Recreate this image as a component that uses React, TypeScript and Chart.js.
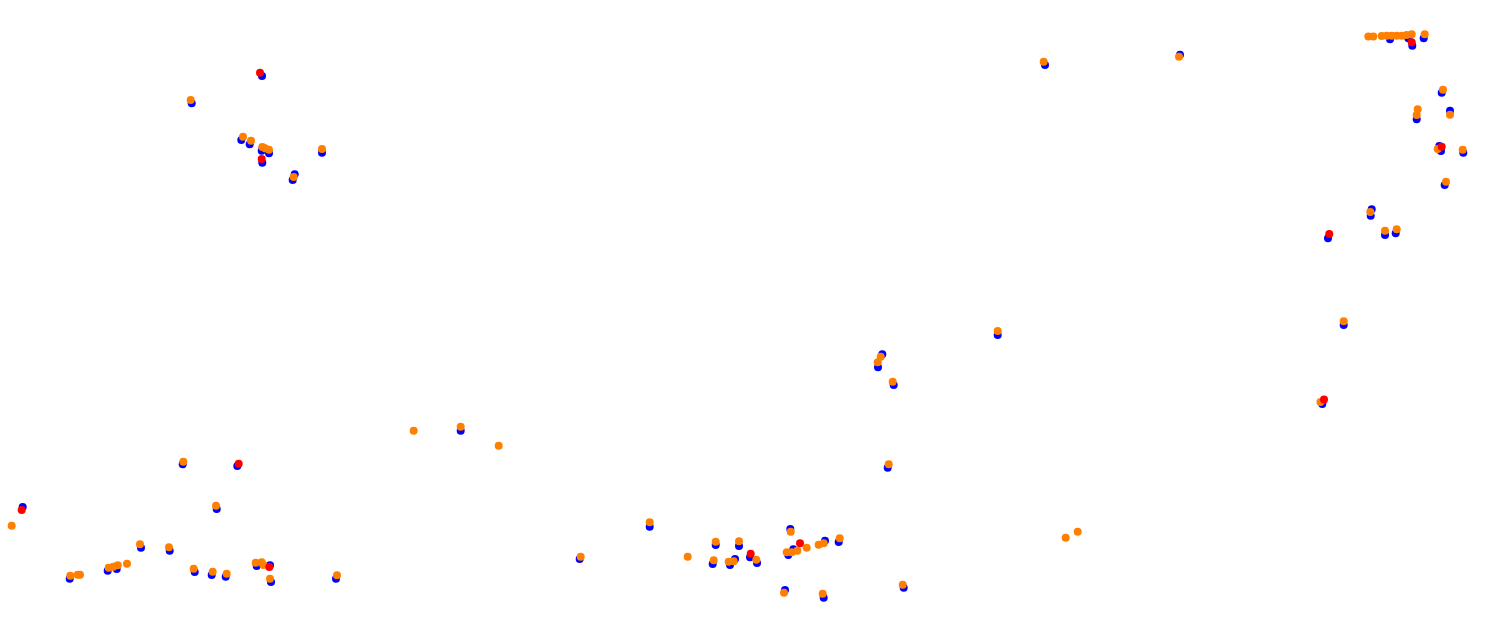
import React, { useEffect, useRef } from "react";
import { Chart, registerables } from "chart.js";

Chart.register(...registerables);

// Track-map coordinates (x to the right, y downward)
const blueX = [182.7, 237.3, 22.7, 216.7, 141, 169.7, 69.7, 107.7, 116.7, 194.7, 211.7, 225.7, 256.7, 270, 271, 336,
  649.7, 579.7, 715.7, 739, 712.7, 730, 735, 750, 757, 790.3, 788.3, 793.3, 825, 838.7, 785, 823.7, 903.7,
  1390, 1408.3, 1423.7, 1412.3, 1441.7, 1416.7, 1450, 1439.3, 1441, 1463.3, 1444.7,
  262, 191.7, 241.3, 249.7, 261.7, 269, 262.3, 322, 294.7, 292.7,
  997.7, 882.3, 878, 893.7, 887.7,
  1371.7, 1370.7, 1328, 1385, 1395.7, 1343.7, 1322.3,
  460.7, 1045, 1180];
const blueY = [464.3, 466, 507, 509, 547.7, 550.7, 578.7, 570.7, 569, 572, 575, 576.7, 566, 565.3, 582, 578.7,
  526.7, 559, 545, 546, 564, 565, 559, 557.3, 563, 529, 555, 549.3, 540.7, 542, 590, 597.7, 587.7,
  39.3, 38.3, 38.3, 45.7, 92.7, 119.3, 110.7, 146, 151, 152.7, 185,
  76, 103.3, 140, 144.3, 150.7, 153.3, 162.7, 152.7, 174.3, 180,
  335, 354.3, 367.3, 385, 467.7,
  209.3, 215.7, 238.3, 235, 233.3, 325, 404,
  430.7, 65, 54.7];

const redX = [238.7, 21.7, 269.3, 750.7, 800, 1411.7, 1441.7, 260, 261.7, 1329.3, 1324];
const redY = [463.7, 510, 567, 553.7, 543.3, 42.3, 146.7, 72.7, 159, 234, 399.5];

const orangeX = [183.3, 11.7, 216, 140, 169, 70.3, 77.7, 80, 108.7, 113.3, 117.7, 127, 193.7, 212.7, 226.7, 255.7, 261.7, 263.3, 270, 337,
  649.7, 580.7, 687.7, 715.7, 739, 713.7, 728.7, 733.7, 756.3, 790.7, 786.7, 791.7, 797.3, 806.7, 818.7, 823.7, 839.7, 784, 822.7, 902.7,
  1368.3, 1373.3, 1381.7, 1386.7, 1391.7, 1396.7, 1401.7, 1406.7, 1411.7, 1424.7, 1443, 1417.7, 1416.7, 1450, 1437.7, 1462.7, 1446,
  190.7, 243, 251, 262.3, 265, 269, 322, 293.7,
  997.7, 880.7, 877.7, 892.7, 888.7,
  1370.3, 1385, 1396.7, 1343.7, 1320.5,
  413.7, 460.7, 498.7, 1043.7, 1179, 1065.7, 1077.7];
const orangeY = [461.7, 525.7, 505.7, 544.3, 547.3, 575.7, 574.7, 574.7, 567.7, 566.7, 565.3, 563.7, 568.7, 571.7, 573.7, 562.7, 562.3, 565, 578.7, 575.3,
  522.3, 556.7, 556.7, 541.7, 541.3, 560.3, 561.7, 561.3, 559.7, 531.7, 552.3, 552.3, 550.7, 547.7, 544.7, 543.3, 538.3, 592.7, 593.7, 584.7,
  36.5, 36.5, 36, 35.7, 35.7, 35.7, 35.7, 35, 34.3, 34.3, 89.7, 109.3, 115, 114.7, 149, 149.7, 181.7,
  100, 136.7, 140.7, 147, 148.3, 149.7, 149, 177,
  331, 356.7, 362.3, 381.7, 464.3,
  212, 230.7, 229.3, 321.3, 402,
  430.7, 426.7, 445.7, 61.7, 56.7, 537.7, 531.7];

const toPoints = (xs: number[], ys: number[]) => xs.map((x, i) => ({ x, y: ys[i] }));

export default function App() {
  const canvasRef = useRef<HTMLCanvasElement | null>(null);

  useEffect(() => {
    if (!canvasRef.current) return;
    const mk = (label: string, xs: number[], ys: number[], color: string, order: number) => ({
      label,
      data: toPoints(xs, ys),
      backgroundColor: color,
      borderColor: color,
      borderWidth: 0,
      pointRadius: 4,
      pointHoverRadius: 4,
      order,
      clip: false as const,
    });
    const chart = new Chart(canvasRef.current, {
      type: "scatter",
      data: {
        datasets: [
          mk("blue", blueX, blueY, "#0000ff", 3),
          mk("orange", orangeX, orangeY, "#ff8000", 2),
          mk("red", redX, redY, "#ff0000", 1),
        ],
      },
      options: {
        animation: false,
        responsive: true,
        maintainAspectRatio: false,
        layout: { padding: 0, autoPadding: false },
        plugins: { legend: { display: false }, tooltip: { enabled: false } },
        scales: {
          x: { type: "linear", min: 0, max: 1489, display: false },
          y: { type: "linear", min: 0, max: 638, reverse: true, display: false },
        },
      },
    });
    return () => chart.destroy();
  }, []);

  return (
    <div style={{ position: "absolute", left: 0, top: 0, width: 1489, height: 638, background: "#fff" }}>
      <canvas ref={canvasRef} />
    </div>
  );
}
